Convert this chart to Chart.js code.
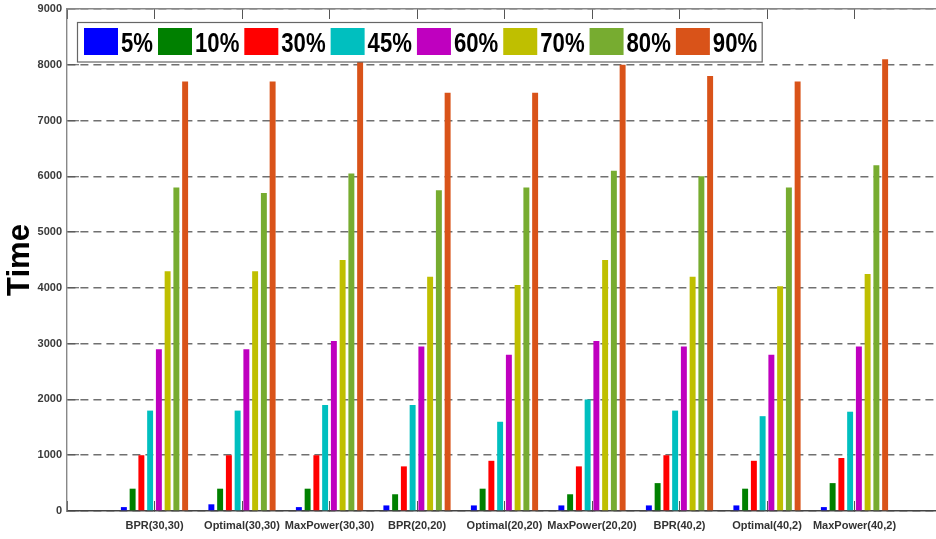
<!DOCTYPE html>
<html>
<head>
<meta charset="utf-8">
<script src="https://cdn.jsdelivr.net/npm/chart.js@4"></script>
<style>
  html, body { margin: 0; padding: 0; background: #fff; overflow: hidden; }
  canvas { display: block; }
</style>
</head>
<body>
<canvas id="chart" width="960" height="539"></canvas>
<script>
const categories = ['BPR(30,30)', 'Optimal(30,30)', 'MaxPower(30,30)', 'BPR(20,20)', 'Optimal(20,20)', 'MaxPower(20,20)', 'BPR(40,2)', 'Optimal(40,2)', 'MaxPower(40,2)'];
const seriesNames = ['5%', '10%', '30%', '45%', '60%', '70%', '80%', '90%'];
const seriesColors = ['#0000ff', '#008000', '#ff0000', '#00bfbf', '#bf00bf', '#bfbf00', '#77ac30', '#d95319'];

const time5 = [70, 120, 70, 100, 100, 100, 100, 100, 70];
const time10 = [400, 400, 400, 300, 400, 300, 500, 400, 500];
const time30 = [1000, 1000, 1000, 800, 900, 800, 1000, 900, 950];
const time45 = [1800, 1800, 1900, 1900, 1600, 2000, 1800, 1700, 1780];
const time60 = [2900, 2900, 3050, 2950, 2800, 3050, 2950, 2800, 2950];
const time70 = [4300, 4300, 4500, 4200, 4050, 4500, 4200, 4030, 4250];
const time80 = [5800, 5700, 6050, 5750, 5800, 6100, 6000, 5800, 6200];
const time90 = [7700, 7700, 8050, 7500, 7500, 8000, 7800, 7700, 8100];

const yTicks = [0, 1000, 2000, 3000, 4000, 5000, 6000, 7000, 8000, 9000];

const allSeries = [time5, time10, time30, time45, time60, time70, time80, time90];

// empty slot on each side so the groups sit at 1..9 of a 0..10 axis
const labels = [''].concat(categories, ['']);

const datasets = allSeries.map((values, i) => ({
  label: seriesNames[i],
  data: [null].concat(values, [null]),
  backgroundColor: seriesColors[i],
  borderWidth: 0,
  categoryPercentage: 0.8,
  barPercentage: 0.68
}));

// framed legend drawn over the plot
const boxLegend = {
  id: 'boxLegend',
  afterDraw(chart) {
    const ctx = chart.ctx;
    const squeeze = 0.82;
    ctx.save();
    ctx.font = 'bold 27px "Liberation Sans", Arial, sans-serif';
    let x = 84;
    const items = chart.data.datasets.map(ds => {
      const w = ctx.measureText(ds.label).width * squeeze;
      const item = { x: x, w: w, ds: ds };
      x += 37 + w + 5;
      return item;
    });
    const right = x;
    ctx.fillStyle = '#fff';
    ctx.fillRect(77.5, 22.5, right - 77.5, 39.5);
    ctx.strokeStyle = '#666';
    ctx.lineWidth = 1.2;
    ctx.strokeRect(77.5, 22.5, right - 77.5, 39.5);
    items.forEach(it => {
      ctx.fillStyle = it.ds.backgroundColor;
      ctx.fillRect(it.x, 28, 34, 27);
      ctx.save();
      ctx.translate(it.x + 37, 52);
      ctx.scale(squeeze, 1);
      ctx.fillStyle = '#000';
      ctx.textBaseline = 'alphabetic';
      ctx.fillText(it.ds.label, 0, 0);
      ctx.restore();
    });
    ctx.restore();
  }
};

new Chart(document.getElementById('chart'), {
  type: 'bar',
  data: { labels: labels, datasets: datasets },
  plugins: [boxLegend],
  options: {
    responsive: false,
    animation: false,
    devicePixelRatio: 1,
    layout: { padding: { top: 0, right: 15, bottom: 0, left: 0 } },
    plugins: {
      legend: { display: false },
      tooltip: { enabled: false }
    },
    scales: {
      x: {
        position: 'bottom',
        offset: false,
        afterFit: s => { s.height = 28; },
        grid: {
          offset: false,
          drawOnChartArea: false,
          tickLength: -10,
          tickColor: '#555',
          tickWidth: 1
        },
        border: { color: '#444', width: 1.6 },
        ticks: {
          autoSkip: false,
          maxRotation: 0,
          padding: 18,
          color: '#333',
          font: { family: '"Liberation Sans", Arial, sans-serif', size: 11, weight: 'bold' }
        }
      },
      x2: {
        type: 'category',
        position: 'top',
        offset: false,
        afterFit: s => { s.height = 9; },
        grid: {
          offset: false,
          drawOnChartArea: false,
          tickLength: -10,
          tickColor: '#555',
          tickWidth: 1
        },
        border: { color: '#888', width: 1.4 },
        ticks: { display: false }
      },
      y: {
        min: 0,
        max: 9000,
        afterFit: s => {
          s.width = 67;
          s.paddingTop = 0;
          s.paddingBottom = 0;
        },
        afterBuildTicks: s => { s.ticks = yTicks.map(v => ({ value: v })); },
        grid: {
          color: '#707070',
          lineWidth: 1.5,
          tickLength: -12,
          tickColor: '#555',
          tickWidth: 1
        },
        border: { color: '#888', width: 1.4, dash: [8, 5] },
        ticks: {
          padding: 17,
          color: '#3a3a3a',
          font: { family: '"Liberation Sans", Arial, sans-serif', size: 11, weight: 'bold' },
          callback: v => String(v)
        },
        title: {
          display: true,
          text: 'Time',
          color: '#000',
          padding: { top: 2, bottom: 0 },
          font: { family: '"Liberation Sans", Arial, sans-serif', size: 31, weight: 'bold' }
        }
      }
    }
  }
});
</script>
</body>
</html>
